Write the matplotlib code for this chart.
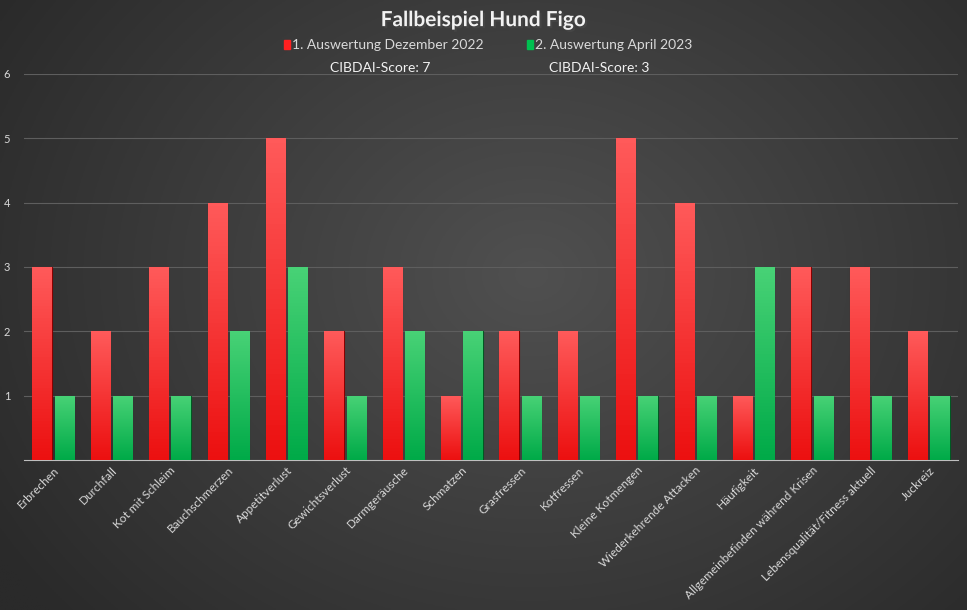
import numpy as np
import matplotlib
matplotlib.use("Agg")
import matplotlib.pyplot as plt
import matplotlib.patheffects as pe

categories = ["Erbrechen", "Durchfall", "Kot mit Schleim", "Bauchschmerzen",
              "Appetitverlust", "Gewichtsverlust", "Darmgeräusche", "Schmatzen",
              "Grasfressen", "Kotfressen", "Kleine Kotmengen",
              "Wiederkehrende Attacken", "Häufigkeit",
              "Allgemeinbefinden während Krisen",
              "Lebensqualität/Fitness aktuell", "Juckreiz"]
dez_2022 = [3, 2, 3, 4, 5, 2, 3, 1, 2, 2, 5, 4, 1, 3, 3, 2]
apr_2023 = [1, 1, 1, 2, 3, 1, 2, 2, 1, 1, 1, 1, 3, 1, 1, 1]
series_names = ["1. Auswertung Dezember 2022", "2. Auswertung April 2023"]
scores = ["CIBDAI-Score: 7", "CIBDAI-Score: 3"]

plt.rcParams['font.family'] = ['Lato', 'DejaVu Sans']

fig = plt.figure(figsize=(9.67, 6.10), dpi=100)

# dark radial background
bg = fig.add_axes([0, 0, 1, 1], zorder=-10)
yy, xx = np.mgrid[0:1:300j, 0:1:480j]
r = np.sqrt(((xx - 0.55) * 1.3) ** 2 + (yy - 0.45) ** 2)
r = np.clip(r / 0.85, 0, 1)
c0 = np.array([0x50, 0x50, 0x50]) / 255
c1 = np.array([0x2a, 0x2a, 0x2a]) / 255
img = c0[None, None, :] * (1 - r[..., None]) + c1[None, None, :] * r[..., None]
bg.imshow(img, extent=[0, 1, 0, 1], aspect='auto', origin='upper')
bg.axis('off')

ax = fig.add_axes([0.0248, 0.246, 0.9659, 0.6327])
ax.set_facecolor('none')

x = np.arange(len(categories))
w = 0.33
off = 0.19


def shaded_bars(xpos, vals, top, bottom, edge):
    bars = ax.bar(xpos, vals, w, color=bottom, edgecolor=edge, linewidth=0.8, zorder=3)
    grad = np.linspace(0, 1, 64)[:, None]
    cmap = matplotlib.colors.LinearSegmentedColormap.from_list('g', [top, bottom])
    for b in bars:
        bx, by = b.get_x(), b.get_y()
        im = ax.imshow(grad, extent=[bx, bx + b.get_width(), by, by + b.get_height()],
                       cmap=cmap, aspect='auto', zorder=3.5, origin='upper')
        im.set_clip_path(b)
    return bars


shaded_bars(x - off, dez_2022, '#ff5a5a', '#ec1010', '#8a0000')
shaded_bars(x + off, apr_2023, '#48d276', '#00aa48', '#005a22')

ax.set_xlim(-0.5, len(categories) - 0.5)
ax.set_ylim(0, 6)
ax.set_yticks([1, 2, 3, 4, 5, 6])
ax.yaxis.grid(True, color='#5e5e5e', linewidth=0.8, zorder=0)
ax.set_axisbelow(True)
for s in ['top', 'right', 'left']:
    ax.spines[s].set_visible(False)
ax.spines['bottom'].set_color('#bfbfbf')
ax.tick_params(axis='both', length=0, colors='#d9d9d9', labelsize=8)
ax.tick_params(axis='y', pad=10)
ax.set_xticks(x)
ax.set_xticklabels(categories, rotation=45, ha='right', rotation_mode='anchor',
                   fontsize=8.5, color='#d9d9d9')

shadow = [pe.withSimplePatchShadow(offset=(1.5, -1.5), shadow_rgbFace='black', alpha=0.6)]
fig.text(0.5, 0.967, "Fallbeispiel Hund Figo", ha='center', va='center',
         fontsize=15, fontweight='bold', color='#f2f2f2',
         path_effects=[pe.withSimplePatchShadow(offset=(1.5, -1.5), alpha=0.7)])

# legend row
fig.patches.append(matplotlib.patches.Rectangle((0.2937, 0.919), 0.0062, 0.015,
                   transform=fig.transFigure, color='#ff2020'))
fig.text(0.3020, 0.926, series_names[0], ha='left', va='center', fontsize=10, color='#d9d9d9')
fig.patches.append(matplotlib.patches.Rectangle((0.5450, 0.919), 0.0062, 0.015,
                   transform=fig.transFigure, color='#00c050'))
fig.text(0.5533, 0.926, series_names[1], ha='left', va='center', fontsize=10, color='#d9d9d9')
fig.text(0.393, 0.889, scores[0], ha='center', va='center', fontsize=10, color='#f2f2f2')
fig.text(0.620, 0.889, scores[1], ha='center', va='center', fontsize=10, color='#f2f2f2')

fig.savefig("out.png", dpi=100)
